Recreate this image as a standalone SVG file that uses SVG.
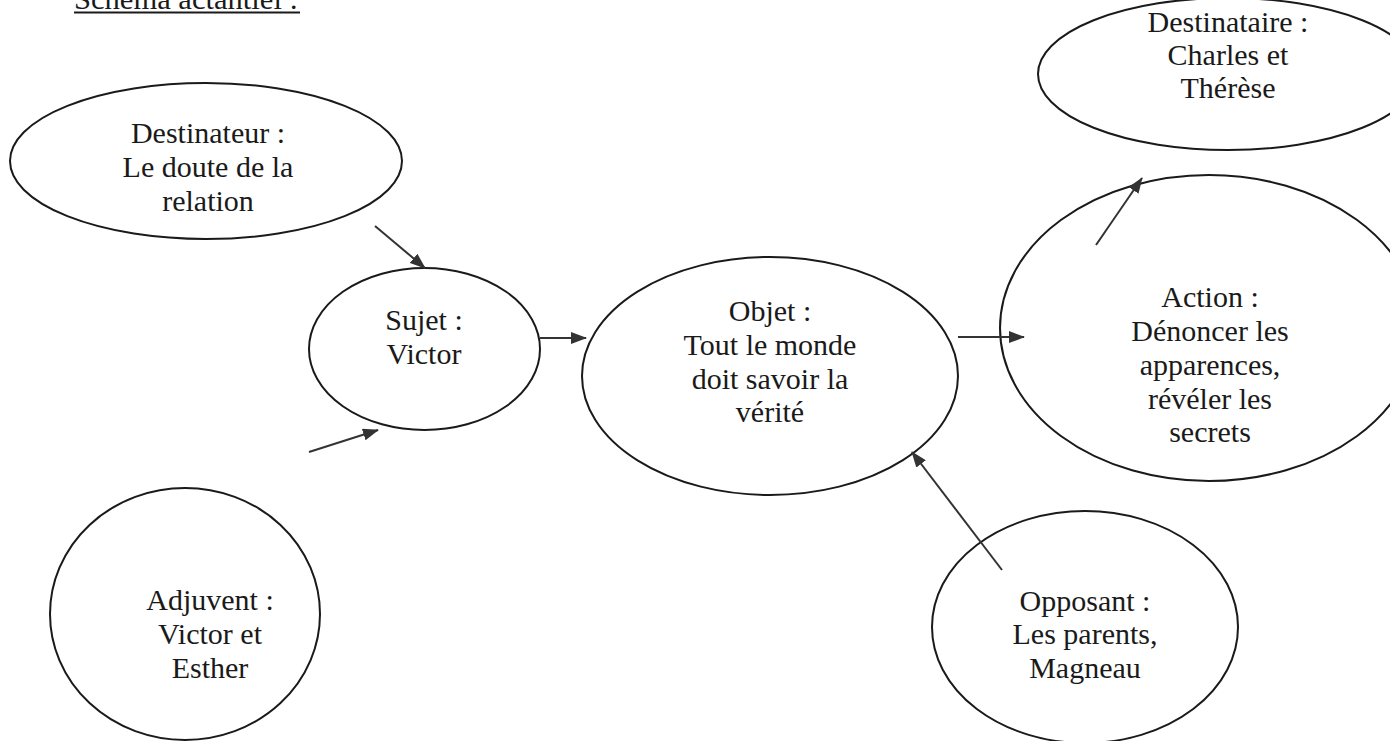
<svg xmlns="http://www.w3.org/2000/svg" width="1390" height="741" viewBox="0 0 1390 741">
<style>
.n{fill:none;stroke:#1a1a1a;stroke-width:2}
.t{font-family:"Liberation Serif","Times New Roman",serif;font-size:30px;fill:#1a1a1a;text-anchor:middle}
.c{stroke:#333;stroke-width:2;fill:none;marker-end:url(#ah)}
</style>
<defs>
<marker id="ah" markerWidth="16" markerHeight="12" refX="15" refY="6" orient="auto" markerUnits="userSpaceOnUse" viewBox="0 0 16 12">
<path d="M0,0 L16,6 L0,12 z" fill="#333"/>
</marker>
</defs>
<rect width="1390" height="741" fill="#fff"/>
<g id="title">
<text x="74" y="9" textLength="224" lengthAdjust="spacingAndGlyphs" style="font-family:'Liberation Serif','Times New Roman',serif;font-size:30px;fill:#1a1a1a">Schéma actantiel :</text>
<line x1="74" y1="12.5" x2="300" y2="12.5" stroke="#1a1a1a" stroke-width="1.8"/>
</g>
<g id="destinateur">
<ellipse class="n" cx="206" cy="161" rx="196" ry="78"/>
<text class="t" x="208" y="143">Destinateur :</text>
<text class="t" x="208" y="177">Le doute de la</text>
<text class="t" x="208" y="211">relation</text>
</g>
<g id="sujet">
<ellipse class="n" cx="424.5" cy="349" rx="115.5" ry="81"/>
<text class="t" x="424" y="330">Sujet :</text>
<text class="t" x="424" y="364">Victor</text>
</g>
<g id="adjuvent">
<ellipse class="n" cx="185" cy="614" rx="135" ry="126"/>
<text class="t" x="210" y="610">Adjuvent :</text>
<text class="t" x="210" y="644">Victor et</text>
<text class="t" x="210" y="678">Esther</text>
</g>
<g id="objet">
<ellipse class="n" cx="770" cy="376" rx="188" ry="119"/>
<text class="t" x="770" y="321">Objet :</text>
<text class="t" x="770" y="355">Tout le monde</text>
<text class="t" x="770" y="389">doit savoir la</text>
<text class="t" x="770" y="422">vérité</text>
</g>
<g id="action">
<ellipse class="n" cx="1209" cy="328" rx="209" ry="153"/>
<text class="t" x="1210" y="307">Action :</text>
<text class="t" x="1210" y="341">Dénoncer les</text>
<text class="t" x="1210" y="375">apparences,</text>
<text class="t" x="1210" y="409">révéler les</text>
<text class="t" x="1210" y="442">secrets</text>
</g>
<g id="destinataire">
<ellipse class="n" cx="1228" cy="74" rx="190" ry="76"/>
<text class="t" x="1228" y="32">Destinataire :</text>
<text class="t" x="1228" y="65">Charles et</text>
<text class="t" x="1228" y="98">Thérèse</text>
</g>
<g id="opposant">
<ellipse class="n" cx="1085" cy="627" rx="153" ry="116"/>
<text class="t" x="1085" y="611">Opposant :</text>
<text class="t" x="1085" y="644">Les parents,</text>
<text class="t" x="1085" y="678">Magneau</text>
</g>
<g id="connectors">
<line class="c" x1="375" y1="226" x2="425" y2="268"/>
<line class="c" x1="309" y1="452" x2="378" y2="430"/>
<line class="c" x1="540" y1="338" x2="586" y2="338"/>
<line class="c" x1="958" y1="337" x2="1024" y2="337"/>
<line class="c" x1="1096" y1="245" x2="1142" y2="178"/>
<line class="c" x1="1002" y1="570" x2="912" y2="452"/>
</g>
</svg>
